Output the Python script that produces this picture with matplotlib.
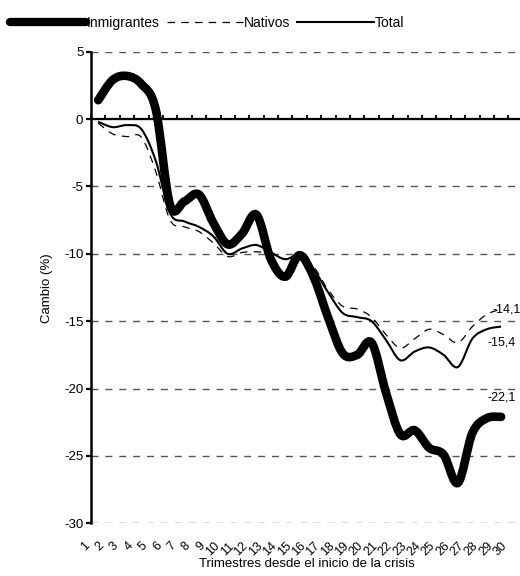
import matplotlib
matplotlib.use('Agg')
import matplotlib.pyplot as plt
import matplotlib.transforms as mtransforms
from matplotlib.path import Path
from matplotlib.patches import PathPatch
from matplotlib.lines import Line2D
import numpy as np

plt.rcParams['font.family'] = ['Liberation Sans', 'DejaVu Sans']

# datos (cambio % desde el inicio de la crisis)
trimestres = list(range(1, 30))
etiquetas = [str(i) for i in range(1, 31)]
inmigrantes = [1.4, 2.9, 3.2, 2.6, 0.7, -6.4, -6.1, -5.6, -7.7, -9.3,
               -8.5, -7.1, -10.4, -11.7, -10.1, -11.8, -14.8, -17.4, -17.5, -16.6,
               -20.3, -23.4, -23.1, -24.4, -24.9, -27.0, -23.3, -22.2, -22.1]
nativos = [-0.3, -1.1, -1.3, -1.35, -3.9, -7.5, -8.0, -8.35, -9.2, -10.2,
           -9.9, -9.85, -10.0, -10.4, -10.1, -11.0, -12.7, -13.9, -14.1, -14.7,
           -16.0, -17.0, -16.3, -15.6, -16.0, -16.6, -15.4, -14.5, -14.1]
total = [-0.2, -0.6, -0.45, -0.75, -3.1, -7.0, -7.6, -8.0, -8.7, -10.0,
         -9.6, -9.35, -9.9, -10.4, -10.1, -11.2, -12.9, -14.4, -14.7, -15.0,
         -16.4, -17.9, -17.25, -16.95, -17.5, -18.4, -16.3, -15.6, -15.4]
finales = ['-14,1', '-15,4', '-22,1']
yticks = [5, 0, -5, -10, -15, -20, -25, -30]


def curva_suave(x, y):
    # curva suavizada tipo Excel (Bezier por tramos)
    p = np.column_stack([x, y]).astype(float)
    ext = np.vstack([p[0], p, p[-1]])
    verts = [p[0]]
    codes = [Path.MOVETO]
    for i in range(len(p) - 1):
        a, b, c, d = ext[i], ext[i + 1], ext[i + 2], ext[i + 3]
        verts += [b + (c - a) / 6, c - (d - b) / 6, c]
        codes += [Path.CURVE4] * 3
    return Path(verts, codes)


fig = plt.figure(figsize=(5.2, 5.76), dpi=100)
ax = fig.add_axes([91 / 520, 52.7 / 576, 431.7 / 520, 471.6 / 576])
ax.set_xlim(0.5, 30.5)
ax.set_ylim(-30, 5)

for s in ['top', 'right', 'bottom']:
    ax.spines[s].set_visible(False)
ax.spines['left'].set_linewidth(1.8)

ax.set_yticks(yticks)
ax.set_yticklabels([str(v) for v in yticks])
ax.tick_params(axis='y', direction='out', length=3.5, width=1.6, labelsize=9.5, pad=2)

for v in yticks:
    if v != 0:
        ax.axhline(v, color='#555555', lw=1, dashes=(5, 5), zorder=1)
ax.axhline(0, color='black', lw=1.6, zorder=2, clip_on=False)

# marcas sobre la linea del cero
sec = ax.secondary_xaxis(30 / 35)
sec.set_xticks(np.arange(0.5, 30, 1))
sec.set_xticklabels([])
sec.tick_params(direction='out', length=3, width=1.3)
sec.spines['bottom'].set_visible(False)

ax.set_xticks(range(1, 31))
ax.set_xticklabels(etiquetas, rotation=45, ha='right')
ax.tick_params(axis='x', length=0, labelsize=9, pad=12)
off = mtransforms.ScaledTranslation(-6 / 100, 0, fig.dpi_scale_trans)
for lab in ax.get_xticklabels():
    lab.set_transform(lab.get_transform() + off)

ax.add_patch(PathPatch(curva_suave(trimestres, nativos), fill=False, color='black',
                       lw=0.9, linestyle=(0, (6, 5)), zorder=3))
ax.add_patch(PathPatch(curva_suave(trimestres, total), fill=False, color='black',
                       lw=1.5, zorder=4))
ax.add_patch(PathPatch(curva_suave(trimestres, inmigrantes), fill=False, color='black',
                       lw=6.2, capstyle='round', joinstyle='round', zorder=5))

ax.annotate(finales[0], (trimestres[-1], nativos[-1]), xytext=(-6.5, 0),
            textcoords='offset points', ha='left', va='center', fontsize=9)
ax.annotate(finales[1], (trimestres[-1], total[-1]), xytext=(-10, -11.7),
            textcoords='offset points', ha='left', va='center', fontsize=9)
ax.annotate(finales[2], (trimestres[-1], inmigrantes[-1]), xytext=(-10, 14),
            textcoords='offset points', ha='left', va='center', fontsize=9)

fig.text(47 / 520, 1 - 288 / 576, 'Cambio (%)', rotation=90, ha='center', va='center', fontsize=9.5)
fig.text(307 / 520, 1 - 564 / 576, 'Trimestres desde el inicio de la crisis',
         ha='center', va='center', fontsize=9.5)

handles = [Line2D([], [], color='black', lw=6, solid_capstyle='round'),
           Line2D([], [], color='black', lw=0.9, dashes=(6, 5)),
           Line2D([], [], color='black', lw=1.5)]
fig.legend(handles, ['Inmigrantes', 'Nativos', 'Total'], loc='upper left',
           bbox_to_anchor=(10 / 520, 1 - 16 / 576), ncol=3, frameon=False,
           fontsize=10, handlelength=5.5, handletextpad=0.05, columnspacing=0.5,
           borderpad=0, borderaxespad=0)

fig.savefig('out.png', dpi=100)
